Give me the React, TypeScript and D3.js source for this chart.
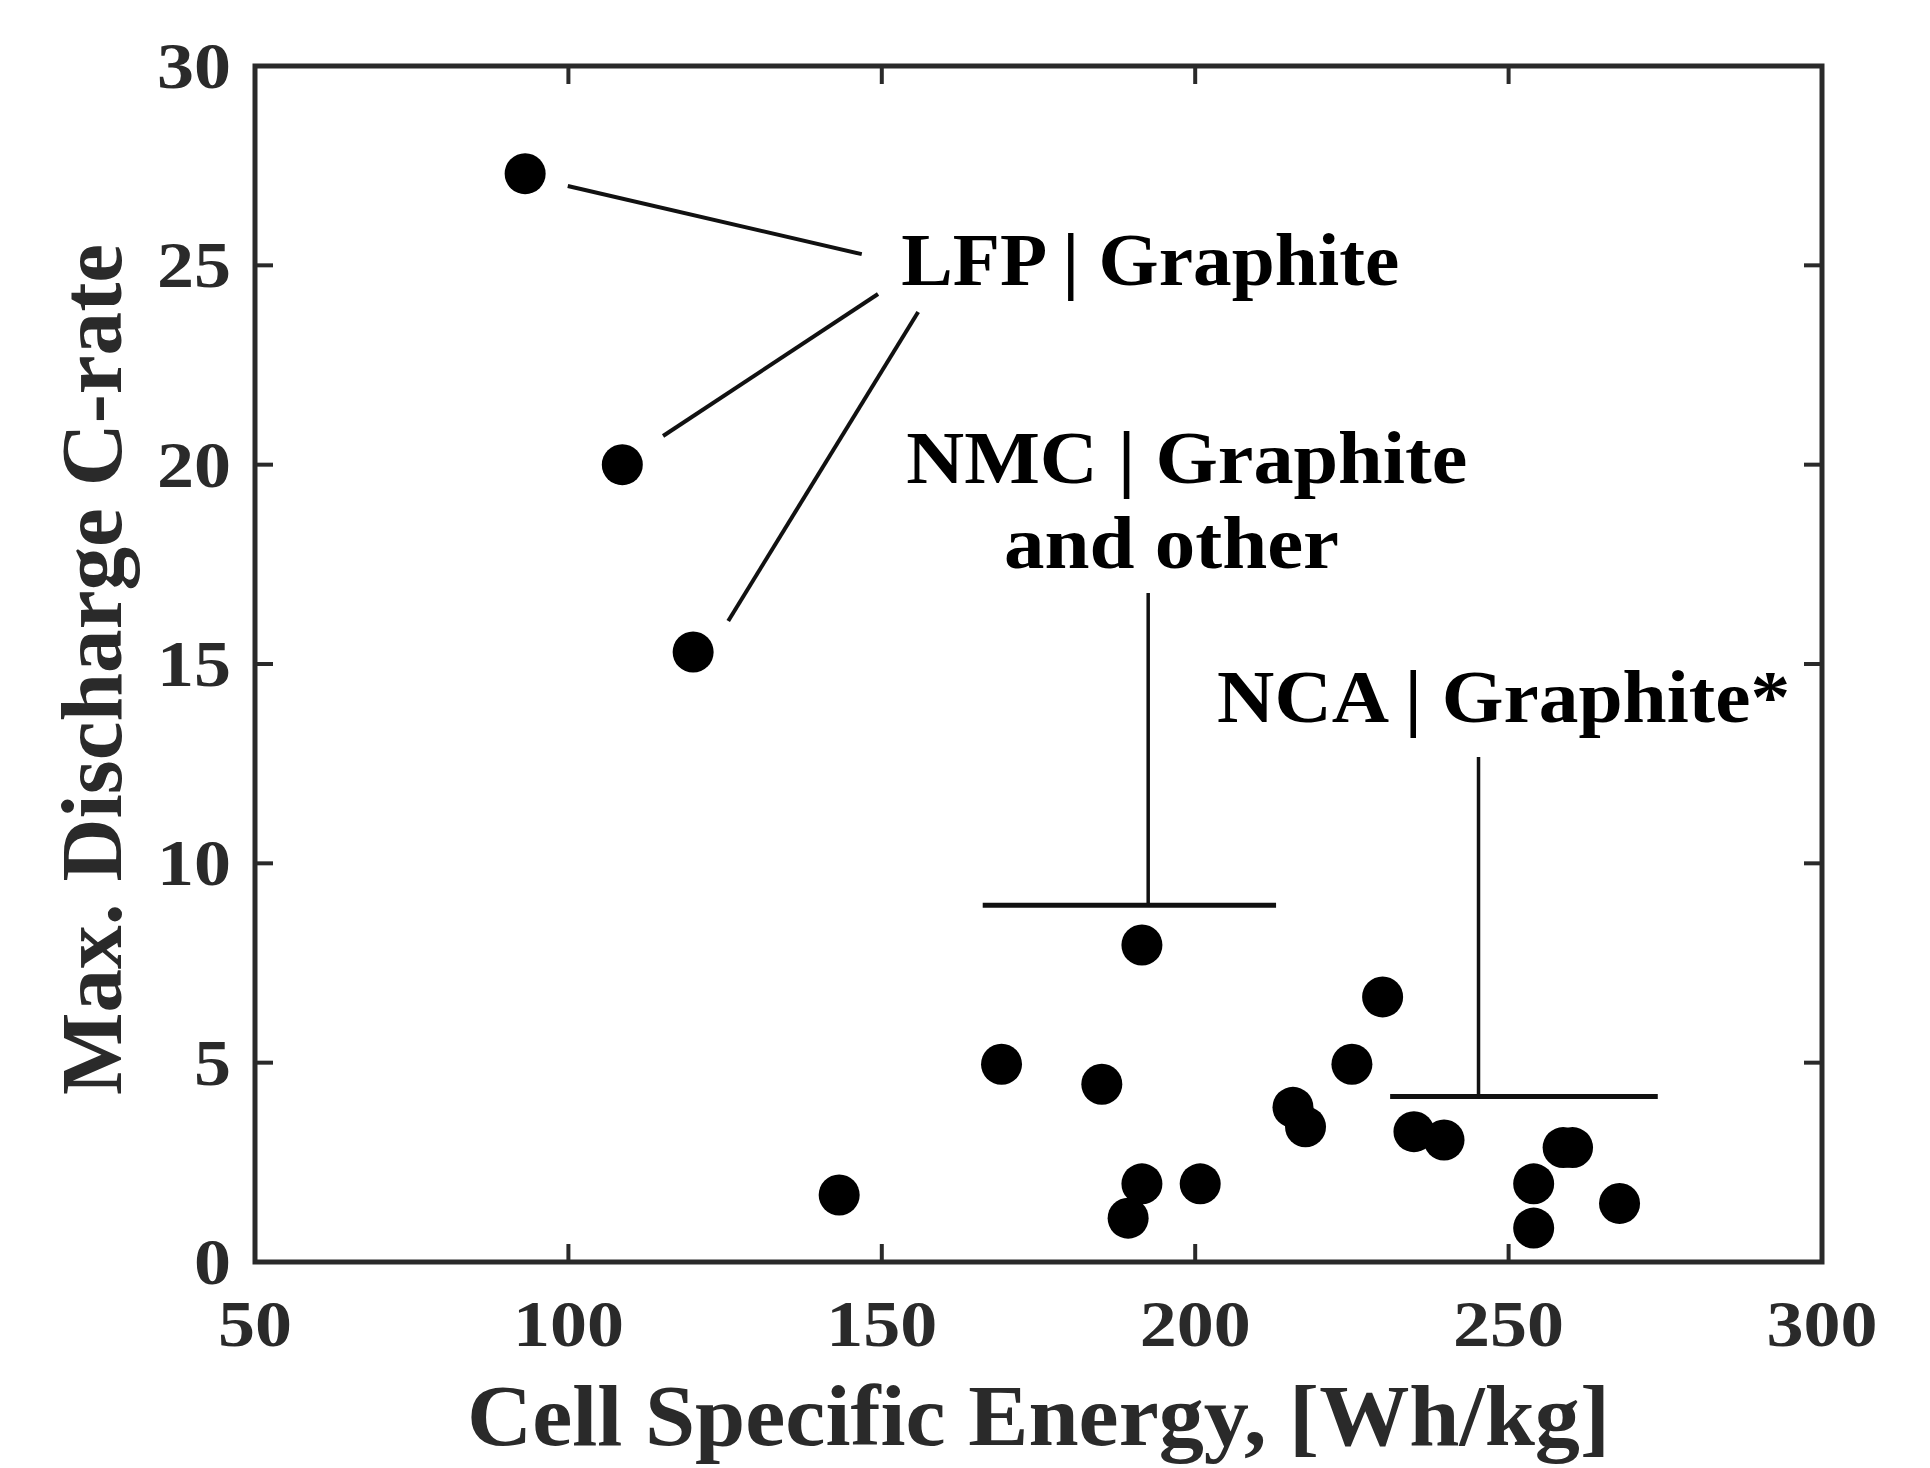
import React from "react";
import * as d3 from "d3";

// ---------- data ----------
const energyWhKg = [93.1, 108.6, 119.9, 143.2, 169.1, 185.1, 191.5, 191.5, 189.3, 200.8, 215.6, 217.6, 225.0, 229.9, 234.9, 239.7, 254.0, 254.0, 258.7, 260.2, 267.7];
const maxCRate = [27.3, 20.0, 15.3, 1.68, 4.96, 4.46, 7.95, 1.96, 1.10, 1.96, 3.88, 3.39, 4.96, 6.65, 3.27, 3.06, 1.96, 0.85, 2.87, 2.87, 1.47];

const xTicks = [50, 100, 150, 200, 250, 300];
const yTicks = [0, 5, 10, 15, 20, 25, 30];
const xDomain = [50, 300];
const yDomain = [0, 30];

const xTitle = "Cell Specific Energy, [Wh/kg]";
const yTitle = "Max. Discharge C-rate";

// annotation leader lines (data units)
const lfpLeaders = [
  [[99.9, 26.99], [146.8, 25.28]],
  [[115.1, 20.72], [149.4, 24.28]],
  [[125.5, 16.08], [155.8, 23.83]],
];
const nmcStem = [[192.5, 16.78], [192.5, 8.95]];
const nmcBar = [[166.1, 8.95], [212.9, 8.95]];
const ncaStem = [[245.2, 12.67], [245.2, 4.15]];
const ncaBar = [[231.1, 4.15], [273.8, 4.15]];

// annotation labels: text, x, y(baseline) in data units
const labelTexts = ["LFP | Graphite", "NMC | Graphite", "and other", "NCA | Graphite*"];
const labelX = [153.1, 153.9, 169.5, 203.5];
const labelY = [24.5, 19.54, 17.41, 13.54];
const labelWidths = [498, 561, 335, 573];

export default function App() {
  const W = 1930, H = 1468;
  const left = 255, right = 1822, top = 66, bottom = 1262;
  const x = d3.scaleLinear().domain(xDomain).range([left, right]);
  const y = d3.scaleLinear().domain(yDomain).range([bottom, top]);
  const font = "'Liberation Serif', 'Times New Roman', serif";
  const axisColor = "#2a2a2a";
  const tickLen = 18;
  const line = d3.line<number[]>().x((d) => x(d[0])).y((d) => y(d[1]));

  return (
    <svg width={W} height={H} style={{ position: "absolute", left: 0, top: 0, background: "#fff" }} fontFamily={font}>
      <rect x={0} y={0} width={W} height={H} fill="#fff" />
      {/* ticks (inward, mirrored) */}
      {xTicks.slice(1, -1).map((t) => (
        <g key={"xt" + t} stroke={axisColor} strokeWidth={4}>
          <line x1={x(t)} x2={x(t)} y1={bottom} y2={bottom - tickLen} />
          <line x1={x(t)} x2={x(t)} y1={top} y2={top + tickLen} />
        </g>
      ))}
      {yTicks.slice(1, -1).map((t) => (
        <g key={"yt" + t} stroke={axisColor} strokeWidth={4}>
          <line x1={left} x2={left + tickLen} y1={y(t)} y2={y(t)} />
          <line x1={right} x2={right - tickLen} y1={y(t)} y2={y(t)} />
        </g>
      ))}
      {/* box */}
      <rect x={left} y={top} width={right - left} height={bottom - top} fill="none" stroke={axisColor} strokeWidth={5} />
      {/* tick labels */}
      {xTicks.map((t) => (
        <text key={"xl" + t} x={x(t)} y={bottom + 84} textAnchor="middle" fontSize={65} fontWeight="bold" fill={axisColor}
          textLength={String(t).length * 37} lengthAdjust="spacingAndGlyphs">{t}</text>
      ))}
      {yTicks.map((t) => (
        <text key={"yl" + t} x={left - 24} y={y(t) + 22} textAnchor="end" fontSize={65} fontWeight="bold" fill={axisColor}
          textLength={String(t).length * 37} lengthAdjust="spacingAndGlyphs">{t}</text>
      ))}
      {/* axis titles */}
      <text x={(left + right) / 2} y={1445} textAnchor="middle" fontSize={87} fontWeight="bold" fill={axisColor}
        textLength={1143} lengthAdjust="spacingAndGlyphs">{xTitle}</text>
      <text transform={`translate(121, ${(244 + 1095) / 2}) rotate(-90)`} textAnchor="middle" fontSize={87} fontWeight="bold" fill={axisColor}
        textLength={851} lengthAdjust="spacingAndGlyphs">{yTitle}</text>
      {/* annotations */}
      {lfpLeaders.map((l, i) => (
        <path key={"lf" + i} d={line(l) || ""} stroke="#111" strokeWidth={4} fill="none" />
      ))}
      <path d={line(nmcStem) || ""} stroke="#111" strokeWidth={3.5} fill="none" />
      <path d={line(nmcBar) || ""} stroke="#111" strokeWidth={5} fill="none" />
      <path d={line(ncaStem) || ""} stroke="#111" strokeWidth={3.5} fill="none" />
      <path d={line(ncaBar) || ""} stroke="#111" strokeWidth={5} fill="none" />
      {labelTexts.map((t, i) => (
        <text key={"lb" + i} x={x(labelX[i])} y={y(labelY[i])} fontSize={75} fontWeight="bold" fill="#000"
          textLength={labelWidths[i]} lengthAdjust="spacingAndGlyphs">{t}</text>
      ))}
      {/* points */}
      {energyWhKg.map((e, i) => (
        <circle key={"p" + i} cx={x(e)} cy={y(maxCRate[i])} r={20.5} fill="#000" />
      ))}
    </svg>
  );
}
